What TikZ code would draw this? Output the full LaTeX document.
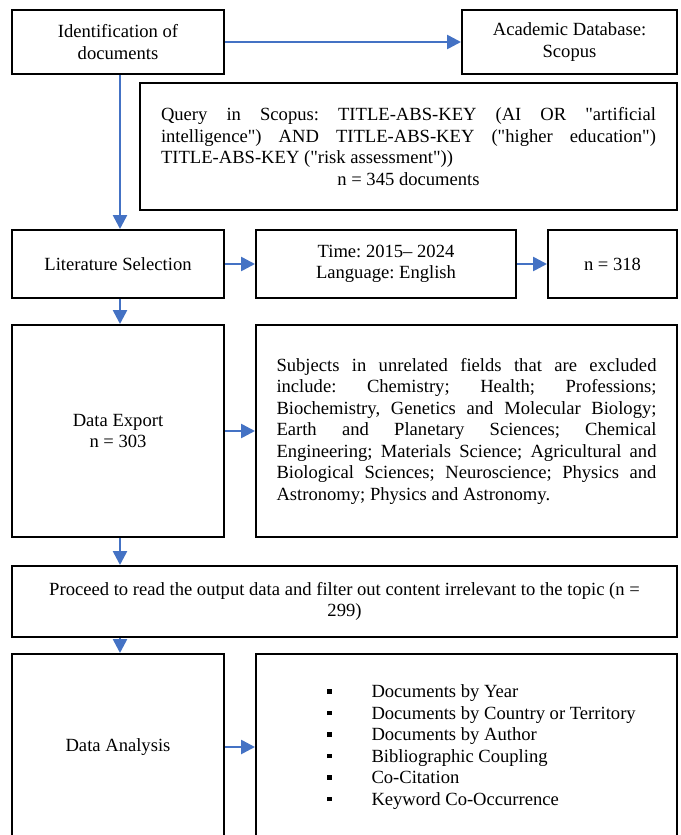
\documentclass[tikz,border=0pt]{standalone}
\usepackage{fontspec}
\setmainfont{Liberation Serif}[Ligatures=TeXOff]
\usetikzlibrary{arrows.meta}
\definecolor{arrowblue}{HTML}{4472C4}
\frenchspacing
\begin{document}
\begin{tikzpicture}[x=1pt,y=-1pt,
  box/.style={draw=black, line width=2pt, inner sep=0pt, font=\fontsize{18.6}{21.5}\selectfont\frenchspacing},
  flow/.style={draw=arrowblue, line width=2.6pt, -{Triangle[length=14pt,width=14pt]}}]
\clip (0,0) rectangle (680,835);
\fill[white] (0,0) rectangle (680,835);

\node[box, align=center, minimum width=212pt, minimum height=64pt] (idf) at (118,42) {Identification of\\documents};
\node[box, align=center, minimum width=215pt, minimum height=64pt] (acad) at (569.5,42) {Academic Database:\\Scopus};
\node[box, minimum width=537pt, minimum height=127pt] (query) at (408.5,146.5) {\parbox{495pt}{\hyphenpenalty=10000
Query in Scopus: TITLE-ABS-KEY (AI OR "artificial\linebreak intelligence") AND TITLE-ABS-KEY ("higher education")\linebreak TITLE-ABS-KEY ("risk assessment"))\par
{\centering n = 345 documents\par}}};

\node[box, align=center, minimum width=212pt, minimum height=68pt] (lit) at (118,264) {Literature Selection};
\node[box, align=center, minimum width=260pt, minimum height=68pt] (time) at (386,264) {Time: 2015– 2024\\Language: English};
\node[box, align=center, minimum width=129pt, minimum height=68pt] (n318) at (612.5,264) {n = 318};

\node[box, align=center, minimum width=212pt, minimum height=212pt] (export) at (118,431) {Data Export\\n = 303};
\node[box, minimum width=421pt, minimum height=212pt] (subj) at (466.5,431) {\parbox{380pt}{\hyphenpenalty=10000
Subjects in unrelated fields that are excluded\linebreak include: Chemistry; Health; Professions;\linebreak Biochemistry, Genetics and Molecular Biology;\linebreak Earth and Planetary Sciences; Chemical\linebreak Engineering; Materials Science; Agricultural and\linebreak Biological Sciences; Neuroscience; Physics and\linebreak Astronomy; Physics and Astronomy.}};

\node[box, align=center, minimum width=665pt, minimum height=71pt] (proceed) at (344.5,601.5) {Proceed to read the output data and filter out content irrelevant to the topic (n =\\299)};

\node[box, align=center, minimum width=212pt, minimum height=186pt] (analysis) at (118,747) {Data Analysis};
\node[box, minimum width=421pt, minimum height=186pt] (list) at (466.5,747) {\makebox[421pt][l]{\hspace{71pt}\raisebox{-4pt}{\begin{tabular}{@{}l@{\hspace{40pt}}l@{}}
\rule[4pt]{4.5pt}{4.5pt} & Documents by Year\\
\rule[4pt]{4.5pt}{4.5pt} & Documents by Country or Territory\\
\rule[4pt]{4.5pt}{4.5pt} & Documents by Author\\
\rule[4pt]{4.5pt}{4.5pt} & Bibliographic Coupling\\
\rule[4pt]{4.5pt}{4.5pt} & Co-Citation\\
\rule[4pt]{4.5pt}{4.5pt} & Keyword Co-Occurrence
\end{tabular}}}};

\draw[flow] (idf.east) -- (acad.west);
\draw[flow] ([xshift=2pt]idf.south) -- ([xshift=2pt]lit.north);
\draw[flow] (lit.east) -- (time.west);
\draw[flow] (time.east) -- (n318.west);
\draw[flow] ([xshift=2pt]lit.south) -- ([xshift=2pt]export.north);
\draw[flow] (export.east) -- (subj.west);
\draw[flow] ([xshift=2pt]export.south) -- ([xshift=2pt]export.south |- proceed.north);
\draw[flow] ([xshift=2pt]analysis.north |- proceed.south) -- ([xshift=2pt]analysis.north);
\draw[flow] (analysis.east) -- (list.west);
\end{tikzpicture}
\end{document}
